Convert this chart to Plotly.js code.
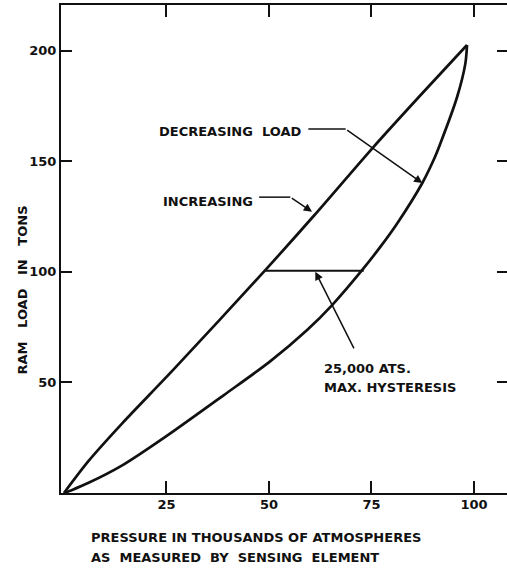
<!DOCTYPE html>
<html>
<head>
<meta charset="utf-8">
<script src="https://cdn.plot.ly/plotly-3.0.1.min.js"></script>
<style>
html,body{margin:0;padding:0;background:#fff;overflow:hidden;}
#chart{width:507px;height:569px;}
</style>
</head>
<body>
<div id="chart"></div>
<script>
// Increasing load curve (pressure in thousands of atm, ram load in tons)
const incPressure = [0, 6, 14.2, 26.8, 49.1, 61, 75.2, 87, 98.3];
const incLoad     = [0, 14.5, 31.5, 56, 100.8, 125.5, 155.9, 180, 202.6];

// Decreasing load curve
const decPressure = [0, 2, 6, 14.2, 24.8, 39, 50.2, 59.3, 65.4, 72.7, 77.2, 81.3, 87.4, 90.2, 91.8, 95.9, 97.9, 98.3];
const decLoad     = [0, 1.4, 4.6, 12.5, 25.5, 44.3, 59.4, 73.7, 85, 100.8, 111.4, 122, 140.2, 150.8, 158.1, 179.2, 194.3, 202.6];

// Max hysteresis marker (horizontal bar at 100 tons)
const hystPressure = [49.1, 73.1];
const hystLoad     = [100.5, 100.5];

// Ticks
const xTickVals = [25, 50, 75, 100];
const xTickText = ['25', '50', '75', '100'];
const yTickVals = [50, 100, 150, 200];
const yTickText = ['50', '100', '150', '200'];

// Text labels
const labelDecreasing = 'DECREASING  LOAD';
const labelIncreasing = 'INCREASING';
const labelHyst1 = '25,000 ATS.';
const labelHyst2 = 'MAX. HYSTERESIS';
const xTitle1 = 'PRESSURE IN THOUSANDS OF ATMOSPHERES';
const xTitle2 = 'AS  MEASURED  BY  SENSING  ELEMENT';
const yTitle = 'RAM   LOAD   IN   TONS';

const FONT = 'DejaVu Sans, Verdana, sans-serif';
const INK = '#111';
const lineStyle = {color: INK, width: 2.7, shape: 'spline', smoothing: 0.8};

const traces = [
  {x: incPressure, y: incLoad, mode: 'lines', line: lineStyle, hoverinfo: 'skip', cliponaxis: false},
  {x: decPressure, y: decLoad, mode: 'lines', line: lineStyle, hoverinfo: 'skip', cliponaxis: false},
  {x: hystPressure, y: hystLoad, mode: 'lines', line: {color: INK, width: 2}, hoverinfo: 'skip'},
  {x: [], y: [], yaxis: 'y2', mode: 'lines', hoverinfo: 'skip'}
];

const txt = (text, x, y, extra) => Object.assign({
  text: text, x: x, y: y, xref: 'x', yref: 'y', showarrow: false,
  xanchor: 'left', yanchor: 'middle',
  font: {family: FONT, size: 13, color: INK, weight: 'bold'}
}, extra || {});

const arrow = (x, y, ax, ay) => ({
  text: '', x: x, y: y, ax: ax, ay: ay, xref: 'x', yref: 'y', axref: 'x', ayref: 'y',
  showarrow: true, arrowhead: 2, arrowsize: 1.1, arrowwidth: 1.5, arrowcolor: INK
});

const layout = {
  width: 507, height: 569,
  margin: {l: 61, r: 0, t: 5, b: 76},
  paper_bgcolor: '#fff', plot_bgcolor: '#fff',
  showlegend: false,
  font: {family: FONT, color: INK},
  xaxis: {
    range: [-0.73, 108.05], showgrid: false, zeroline: false,
    showline: true, linecolor: INK, linewidth: 2, mirror: 'ticks',
    ticks: 'inside', ticklen: 12, tickwidth: 2, tickcolor: INK,
    tickvals: xTickVals, ticktext: xTickText, ticklabelstandoff: -2,
    tickfont: {family: FONT, size: 13, color: INK, weight: 'bold'}
  },
  yaxis: {
    range: [0, 220.7], showgrid: false, zeroline: false,
    showline: true, linecolor: INK, linewidth: 2, mirror: false,
    ticks: 'inside', ticklen: 11, tickwidth: 2, tickcolor: INK,
    tickvals: yTickVals, ticktext: yTickText,
    tickfont: {family: FONT, size: 13, color: INK, weight: 'bold'}
  },
  yaxis2: {
    overlaying: 'y', side: 'right', matches: 'y', range: [0, 220.7],
    showgrid: false, zeroline: false, showline: false,
    ticks: 'inside', ticklen: 10, tickwidth: 2, tickcolor: INK,
    tickvals: yTickVals, showticklabels: false
  },
  shapes: [
    {type: 'line', xref: 'x', yref: 'y', x0: 59.6, y0: 164.6, x1: 68.7, y1: 164.6, line: {color: INK, width: 1.5}},
    {type: 'line', xref: 'x', yref: 'y', x0: 47.6, y0: 133.8, x1: 55.2, y1: 133.8, line: {color: INK, width: 1.5}}
  ],
  annotations: [
    txt(labelDecreasing, 22.8, 163.4),
    txt(labelIncreasing, 23.6, 132.0),
    txt(labelHyst1, 63.0, 56.5),
    txt(labelHyst2, 63.0, 47.9),
    arrow(87.4, 140.2, 68.7, 164.6),
    arrow(60.5, 127.2, 55.2, 133.8),
    arrow(61.3, 100.1, 70.9, 64.7),
    txt(xTitle1, 6.0, -0.0902, {yref: 'paper'}),
    txt(xTitle2, 6.0, -0.133, {yref: 'paper'}),
    {text: yTitle, xref: 'paper', yref: 'paper', x: -0.0874, y: 0.415,
     xanchor: 'center', yanchor: 'middle', textangle: -90, showarrow: false,
     font: {family: FONT, size: 13, color: INK, weight: 'bold'}}
  ]
};

Plotly.newPlot('chart', traces, layout, {staticPlot: true, displayModeBar: false});
</script>
</body>
</html>
